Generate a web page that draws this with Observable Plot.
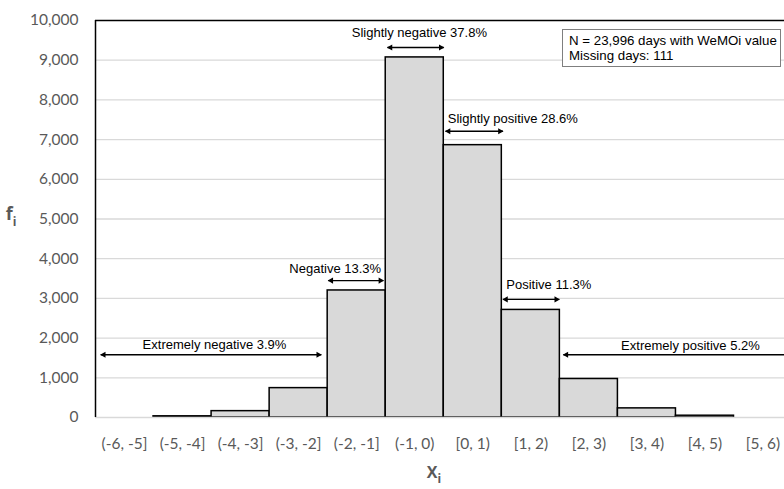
<!DOCTYPE html>
<html><head><meta charset="utf-8">
<script src="https://cdn.jsdelivr.net/npm/d3@7"></script>
<script src="https://cdn.jsdelivr.net/npm/@observablehq/plot@0.6"></script>
<style>
html,body{margin:0;padding:0;background:#fff;overflow:hidden}
#chart{position:relative;width:784px;height:489px}
#note{position:absolute;left:562px;top:29px;width:219px;height:38px;border:1px solid #7f7f7f;background:#fff;
 font-family:"Liberation Sans",Arial,sans-serif;font-size:13.3px;line-height:14.5px;color:#000;box-sizing:border-box;padding:4px 0 0 6px;white-space:nowrap}
</style>
</head><body>
<div id="chart"><div id="note">N = 23,996 days with WeMOi value<br>Missing days: 111</div></div>
<script>
// bins
const binStarts = [-6, -5, -4, -3, -2, -1, 0, 1, 2, 3, 4, 5];
const binLabels = ["(-6, -5]", "(-5, -4]", "(-4, -3]", "(-3, -2]", "(-2, -1]", "(-1, 0)", "[0, 1)", "[1, 2)", "[2, 3)", "[3, 4)", "[4, 5)", "[5, 6)"];
const frequencies = [0, 30, 160, 740, 3200, 9070, 6860, 2710, 970, 230, 45, 0];
const yTicks = [0, 1000, 2000, 3000, 4000, 5000, 6000, 7000, 8000, 9000, 10000];

// annotations (category ranges with share of days)
const annLabels = ["Extremely negative 3.9%", "Negative 13.3%", "Slightly negative 37.8%", "Slightly positive 28.6%", "Positive 11.3%", "Extremely positive 5.2%"];
const annFrom = [-5.91, -1.99, -0.97, 0.03, 1.02, 2.06];
const annTo = [-2.11, -1.04, 0.0, 1.02, 1.99, 5.99];
const annArrowY = [1580, 3450, 9320, 7210, 2975, 1580];
const annTextX = [-3.95, -1.87, -0.42, 1.19, 1.81, 4.25];
const annTextY = [1820, 3756, 9690, 7522, 3338, 1815];

const bins = binStarts.map((s, i) => ({lo: s, hi: s + 1, f: frequencies[i], label: binLabels[i]}));
const anns = annLabels.map((t, i) => ({t, x1: annFrom[i], x2: annTo[i], y: annArrowY[i], tx: annTextX[i], ty: annTextY[i]}));

const chart = Plot.plot({
  width: 784, height: 489,
  marginLeft: 95, marginRight: 0, marginTop: 20, marginBottom: 72,
  x: {domain: [-6, 5.87]},
  y: {domain: [0, 10000]},
  style: {background: "white", fontFamily: "Lato, sans-serif", fontSize: "15.5px"},
  marks: [
    Plot.ruleY(yTicks.filter(v => v > 0 && v < 10000), {y: d => d, stroke: "#d9d9d9", strokeWidth: 1.3}),
    Plot.rectY(bins.filter(d => d.f > 0), {x1: "lo", x2: "hi", y: "f", fill: "#d9d9d9", stroke: "#000", strokeWidth: 1.5, clip: true}),
    Plot.ruleY([0], {stroke: "#d9d9d9", strokeWidth: 1.5}),
    Plot.ruleY([10000], {stroke: "#000", strokeWidth: 1.5}),
    Plot.ruleX([-6], {stroke: "#000", strokeWidth: 1.5}),
    Plot.axisX({ticks: binStarts.map(s => s + 0.5), tickFormat: d => binLabels[binStarts.indexOf(d - 0.5)], tickSize: 0, tickPadding: 20, color: "#595959", fontSize: 15.5, label: null}),
    Plot.axisY({ticks: yTicks, tickFormat: d3.format(","), tickSize: 0, tickPadding: 17, color: "#595959", fontSize: 15.5, label: null}),
    Plot.link(anns, {x1: "x1", x2: "x2", y1: "y", y2: "y", stroke: "#000", strokeWidth: 1.3, clip: true}),
    Plot.dot(anns, {x: "x1", y: "y", symbol: "triangle", r: 2.3, rotate: -90, fill: "#000", stroke: "none", dx: 3, clip: true}),
    Plot.dot(anns, {x: "x2", y: "y", symbol: "triangle", r: 2.3, rotate: 90, fill: "#000", stroke: "none", dx: -3, clip: true}),
    Plot.text(anns, {x: "tx", y: "ty", text: "t", fontFamily: "Liberation Sans, Arial, sans-serif", fontSize: 13, fill: "#000"})
  ]
});
document.getElementById("chart").prepend(chart);

// axis titles with subscripts
const svg = d3.select(chart);
const fT = svg.append("text").attr("x", 11).attr("y", 220)
  .attr("font-family", "'Open Sans', 'Noto Sans', sans-serif").attr("font-weight", 700).attr("font-size", 18).attr("fill", "#595959");
fT.append("tspan").text("f");
fT.append("tspan").attr("dy", 6).attr("font-size", 12).text("i");
const xT = svg.append("text").attr("x", 434).attr("y", 478)
  .attr("font-family", "'Open Sans', 'Noto Sans', sans-serif").attr("font-weight", 700).attr("font-size", 16).attr("fill", "#595959");
xT.append("tspan").text("X");
xT.append("tspan").attr("dy", 5).attr("font-size", 12).text("i");
</script>
</body></html>
